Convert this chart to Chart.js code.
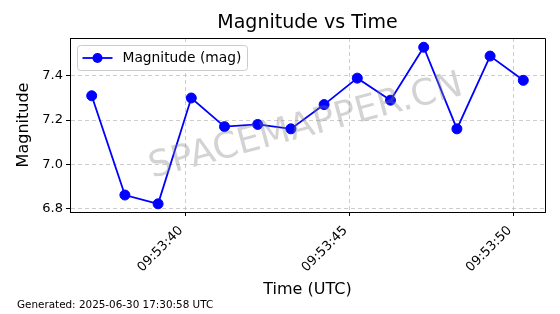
<!DOCTYPE html>
<html>
<head>
<meta charset="utf-8">
<script src="https://cdn.jsdelivr.net/npm/chart.js@4.4.1/dist/chart.umd.min.js"></script>
<style>
    html, body { margin: 0; padding: 0; background: #ffffff; }
</style>
</head>
<body>
<canvas id="grafico" width="560" height="314"></canvas>
<script>
// Datos
const horas = ["09:53:37.16", "09:53:38.17", "09:53:39.18", "09:53:40.19", "09:53:41.20", "09:53:42.21", "09:53:43.22",
               "09:53:44.23", "09:53:45.24", "09:53:46.25", "09:53:47.26", "09:53:48.27", "09:53:49.28", "09:53:50.29"];
const magnitudes = [7.31, 6.86, 6.82, 7.30, 7.17, 7.18, 7.16, 7.27, 7.39, 7.29, 7.53, 7.16, 7.49, 7.38];
const ticksX = [40, 45, 50];            // segundos después de 09:53:00
const ticksY = [6.8, 7.0, 7.2, 7.4];
const etiquetaSerie = "Magnitude (mag)";
const titulo = "Magnitude vs Time";
const pie = "Generated: 2025-06-30 17:30:58 UTC";
const marcaAgua = "SPACEMAPPER.CN";

const FUENTE = "'DejaVu Sans', sans-serif";
const AZUL = "#0000ff";

// Convertir "hh:mm:ss.ss" a segundos después de 09:53:00
function segundos(h) {
    const p = h.split(":");
    return (parseInt(p[0]) - 9) * 3600 + (parseInt(p[1]) - 53) * 60 + parseFloat(p[2]);
}
const puntos = horas.map((h, i) => ({ x: segundos(h), y: magnitudes[i] }));

// Plugin para título, marco, leyenda, marca de agua y pie
const decoraciones = {
    id: "decoraciones",
    afterDraw(chart) {
        const ctx = chart.ctx;
        const a = chart.chartArea;
        ctx.save();

        // marca de agua
        ctx.save();
        ctx.translate(306, 127);
        ctx.rotate(-15 * Math.PI / 180);
        ctx.font = "36px " + FUENTE;
        ctx.fillStyle = "rgba(128,128,128,0.35)";
        ctx.textAlign = "center";
        ctx.textBaseline = "middle";
        ctx.fillText(marcaAgua, 0, 0);
        ctx.restore();

        // marco superior y derecho
        ctx.strokeStyle = "#000";
        ctx.lineWidth = 1;
        ctx.beginPath();
        ctx.moveTo(Math.round(a.left) + 0.5, Math.round(a.top) + 0.5);
        ctx.lineTo(Math.round(a.right) + 0.5, Math.round(a.top) + 0.5);
        ctx.lineTo(Math.round(a.right) + 0.5, Math.round(a.bottom) + 0.5);
        ctx.stroke();

        // título centrado sobre el área del gráfico
        ctx.font = "19px " + FUENTE;
        ctx.fillStyle = "#000";
        ctx.textAlign = "center";
        ctx.textBaseline = "middle";
        ctx.fillText(titulo, (a.left + a.right) / 2, 23);

        // leyenda dentro del gráfico
        const lx = a.left + 7.5, ly = a.top + 7.5, lw = 170, lh = 25;
        ctx.beginPath();
        ctx.roundRect(lx, ly, lw, lh, 3);
        ctx.fillStyle = "rgba(255,255,255,0.8)";
        ctx.fill();
        ctx.strokeStyle = "#cccccc";
        ctx.lineWidth = 1;
        ctx.stroke();
        const cy = ly + lh / 2;
        ctx.strokeStyle = AZUL;
        ctx.lineWidth = 1.8;
        ctx.beginPath();
        ctx.moveTo(lx + 5, cy);
        ctx.lineTo(lx + 35, cy);
        ctx.stroke();
        ctx.beginPath();
        ctx.arc(lx + 20, cy, 5, 0, Math.PI * 2);
        ctx.fillStyle = AZUL;
        ctx.fill();
        ctx.font = "13.8px " + FUENTE;
        ctx.fillStyle = "#000";
        ctx.textAlign = "left";
        ctx.fillText(etiquetaSerie, lx + 45, cy);

        // pie de página
        ctx.font = "10.4px " + FUENTE;
        ctx.fillText(pie, 17, 305);
        ctx.restore();
    }
};

const rejilla = {
    color: "rgba(176,176,176,0.8)",
    lineWidth: 0.8,
    tickLength: 4,
    tickColor: "#000",
    tickWidth: 1,
    tickBorderDash: []
};

const ctx = document.getElementById("grafico").getContext("2d");
const miGrafico = new Chart(ctx, {
    type: "line",
    data: {
        datasets: [{
            label: etiquetaSerie,
            data: puntos,
            borderColor: AZUL,
            backgroundColor: AZUL,
            borderWidth: 1.8,
            pointRadius: 5,
            pointBorderWidth: 1,
            tension: 0
        }]
    },
    options: {
        responsive: false,
        animation: false,
        events: [],
        layout: { padding: { top: 38, right: 15, left: 0, bottom: 0 } },
        plugins: {
            legend: { display: false },
            title: { display: false },
            tooltip: { enabled: false }
        },
        scales: {
            x: {
                type: "linear",
                min: 36.5,
                max: 50.95,
                afterBuildTicks: (s) => { s.ticks = ticksX.map(v => ({ value: v })); },
                afterFit: (s) => { s.height = 102; },
                grid: rejilla,
                border: { display: true, color: "#000", width: 1, dash: [4, 3] },
                ticks: {
                    color: "#000",
                    font: { family: FUENTE, size: 13 },
                    minRotation: 45,
                    maxRotation: 45,
                    padding: 7,
                    labelOffset: -4,
                    callback: (v) => "09:53:" + String(Math.round(v)).padStart(2, "0")
                },
                title: {
                    display: true,
                    text: "Time (UTC)",
                    color: "#000",
                    font: { family: FUENTE, size: 16 },
                    padding: { top: 4, bottom: 15 }
                }
            },
            y: {
                min: 6.783,
                max: 7.572,
                afterBuildTicks: (s) => { s.ticks = ticksY.map(v => ({ value: v })); },
                afterFit: (s) => { s.width = 70; },
                grid: rejilla,
                border: { display: true, color: "#000", width: 1, dash: [4, 3] },
                ticks: {
                    color: "#000",
                    font: { family: FUENTE, size: 13 },
                    padding: 3,
                    callback: (v) => v.toFixed(1)
                },
                title: {
                    display: true,
                    text: "Magnitude",
                    color: "#000",
                    font: { family: FUENTE, size: 16 },
                    padding: { top: 14, bottom: 4 }
                }
            }
        }
    },
    plugins: [decoraciones]
});
</script>
</body>
</html>
